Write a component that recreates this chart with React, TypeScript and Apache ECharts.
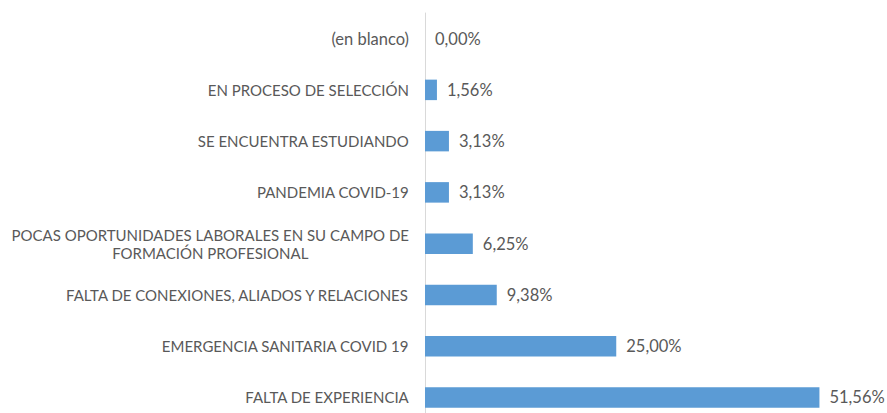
import React, { useEffect, useRef } from "react";
import * as echarts from "echarts";

const categories = [
  "FALTA DE EXPERIENCIA",
  "EMERGENCIA SANITARIA COVID 19",
  "FALTA DE CONEXIONES, ALIADOS Y RELACIONES",
  "POCAS OPORTUNIDADES LABORALES EN SU CAMPO DE\nFORMACIÓN PROFESIONAL",
  "PANDEMIA COVID-19",
  "SE ENCUENTRA ESTUDIANDO",
  "EN PROCESO DE SELECCIÓN",
  "(en blanco)",
];
const values = [51.56, 25.0, 9.38, 6.25, 3.13, 3.13, 1.56, 0.0];

const FONT = "Lato";
const FS = 15;
const FS_LOWER = 16.5;

export default function App() {
  const ref = useRef<HTMLDivElement>(null);
  useEffect(() => {
    if (!ref.current) return;
    const chart = echarts.init(ref.current, null, { renderer: "svg" });
    chart.setOption({
      animation: false,
      grid: {
        left: 425,
        right: 3,
        top: 13,
        bottom: -10,
        containLabel: false,
        outerBoundsMode: "none",
      },
      xAxis: {
        type: "value",
        min: 0,
        max: 60,
        show: false,
      },
      yAxis: {
        type: "category",
        data: categories,
        axisLine: { show: true, lineStyle: { color: "#d9d9d9", width: 1 } },
        axisTick: { show: false },
        axisLabel: {
          margin: 16,
          color: "#595959",
          fontFamily: FONT,
          fontSize: FS,
          formatter: (v: string) =>
            v
              .split("\n")
              .map((l) => (/[a-z]/.test(l) ? `{l|${l}}` : `{c|${l}}`))
              .join("\n"),
          rich: {
            c: { align: "center", color: "#595959", fontFamily: FONT, fontSize: FS, lineHeight: 18 },
            l: { align: "center", color: "#595959", fontFamily: FONT, fontSize: FS_LOWER, lineHeight: 18 },
          },
        },
      },
      series: [
        {
          type: "bar",
          data: values,
          barCategoryGap: "60%",
          itemStyle: { color: "#5b9bd5" },
          label: {
            show: true,
            position: "right",
            distance: 10,
            color: "#595959",
            fontFamily: FONT,
            fontSize: FS_LOWER,
            formatter: (p: any) => p.value.toFixed(2).replace(".", ",") + "%",
          },
        },
      ],
    });
    return () => chart.dispose();
  }, []);
  return (
    <div
      ref={ref}
      style={{ position: "absolute", left: 0, top: 0, width: 887, height: 413, background: "#fff" }}
    />
  );
}
